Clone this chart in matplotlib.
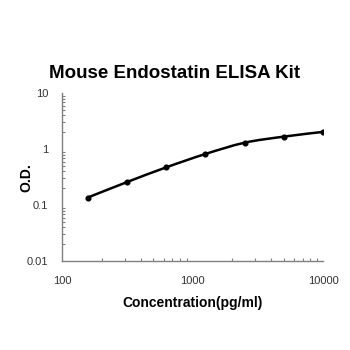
import numpy as np
import matplotlib.pyplot as plt
from matplotlib.path import Path
from matplotlib.patches import PathPatch
from matplotlib.ticker import LogLocator, NullFormatter, FixedLocator, FixedFormatter

# standard curve data
conc = [156.25, 312.5, 625, 1250, 2500, 5000, 10000]
od = [0.136, 0.257, 0.471, 0.817, 1.30, 1.67, 2.03]

x_ticks = [100, 1000, 10000]
x_labels = ['100', '1000', '10000']
y_ticks = [0.01, 0.1, 1, 10]
y_labels = ['0.01', '0.1', '1', '10']

plt.rcParams['font.family'] = ['Liberation Sans', 'DejaVu Sans']


def smooth_path(xs, ys, t=1/6):
    # Catmull-Rom style bezier through the points, built in log space
    lx = np.log10(xs)
    ly = np.log10(ys)
    n = len(lx)
    verts = [(xs[0], ys[0])]
    codes = [Path.MOVETO]
    for i in range(n - 1):
        p0 = (lx[max(i - 1, 0)], ly[max(i - 1, 0)])
        p1 = (lx[i], ly[i])
        p2 = (lx[i + 1], ly[i + 1])
        p3 = (lx[min(i + 2, n - 1)], ly[min(i + 2, n - 1)])
        c1 = (p1[0] + (p2[0] - p0[0]) * t, p1[1] + (p2[1] - p0[1]) * t)
        c2 = (p2[0] - (p3[0] - p1[0]) * t, p2[1] - (p3[1] - p1[1]) * t)
        for c in (c1, c2, p2):
            verts.append((10 ** c[0], 10 ** c[1]))
        codes += [Path.CURVE4] * 3
    return Path(verts, codes)


fig = plt.figure(figsize=(3.5, 3.5), dpi=100)
ax = fig.add_axes([0.178, 0.254, 0.745, 0.48])
ax.set_xscale('log')
ax.set_yscale('log')
ax.set_xlim(100, 10000)
ax.set_ylim(0.01, 10)

ax.add_patch(PathPatch(smooth_path(conc, od), facecolor='none',
                       edgecolor='black', linewidth=1.8))
ax.plot(conc, od, 'o', color='black', markersize=3.4)

for s in ['top', 'right']:
    ax.spines[s].set_visible(False)
for s in ['left', 'bottom']:
    ax.spines[s].set_color('#808080')
    ax.spines[s].set_linewidth(1)

ax.xaxis.set_major_locator(FixedLocator(x_ticks))
ax.xaxis.set_major_formatter(FixedFormatter(x_labels))
ax.yaxis.set_major_locator(FixedLocator(y_ticks))
ax.yaxis.set_major_formatter(FixedFormatter(y_labels))
ax.xaxis.set_minor_locator(LogLocator(base=10, subs=np.arange(2, 10)))
ax.yaxis.set_minor_locator(LogLocator(base=10, subs=np.arange(2, 10)))
ax.xaxis.set_minor_formatter(NullFormatter())
ax.yaxis.set_minor_formatter(NullFormatter())
ax.tick_params(which='major', length=0, labelsize=8, colors='#333333')
ax.tick_params(axis='x', which='major', pad=11)
ax.tick_params(axis='y', which='major', pad=10)
ax.tick_params(which='minor', direction='in', length=2.5, color='#808080', width=0.8)

ax.set_xlabel('Concentration(pg/ml)', fontsize=10, fontweight='bold', labelpad=7)
ax.set_ylabel('O.D.', fontsize=10, fontweight='bold')
ax.yaxis.set_label_coords(-0.11, 0.5)
fig.suptitle('Mouse Endostatin ELISA Kit', fontsize=13.5, fontweight='bold', y=0.815)

fig.savefig('out.png', dpi=100, facecolor='white')
